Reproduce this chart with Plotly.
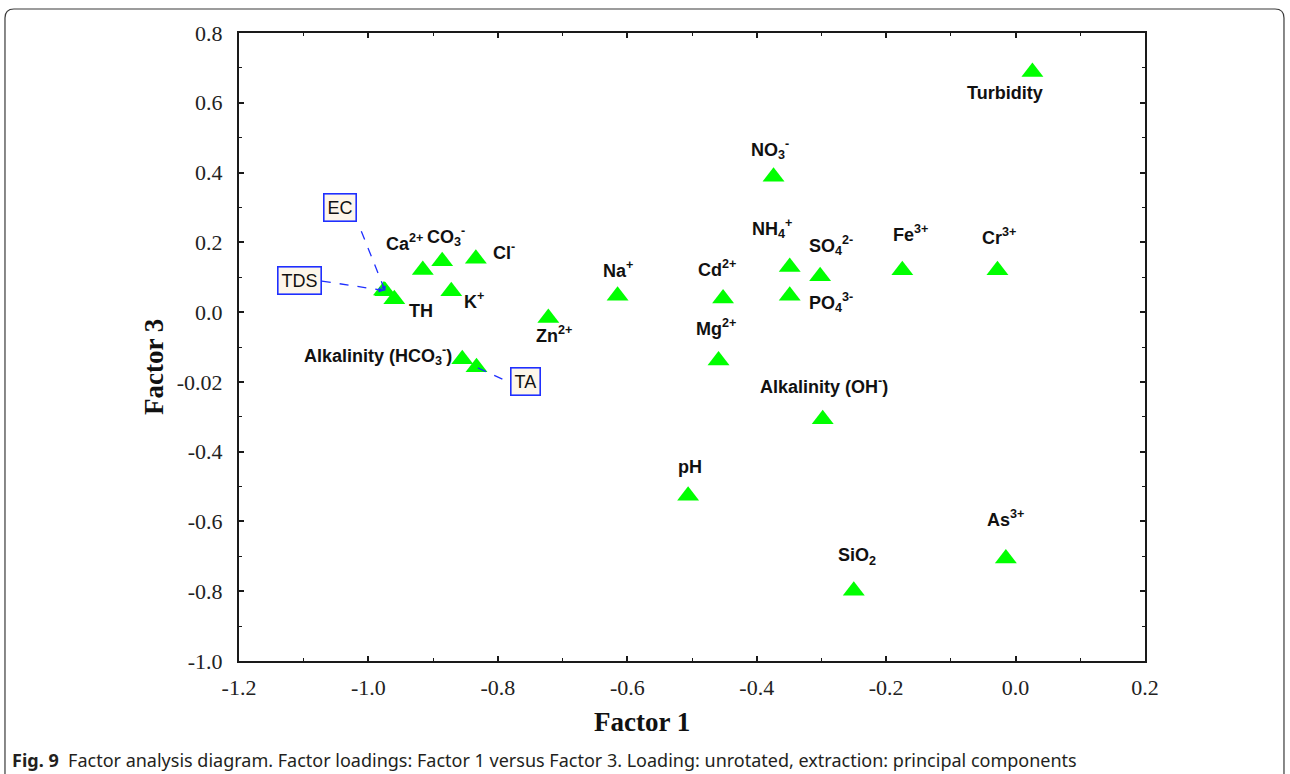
import plotly.graph_objects as go

# Factor loadings (unrotated, principal components)
variables = ["EC", "TDS", "TH", "Ca", "CO3", "Cl", "K", "Alk_HCO3", "TA", "Zn",
             "Na", "Cd", "Mg", "NO3", "NH4", "SO4", "PO4", "Fe", "Cr",
             "Turbidity", "Alk_OH", "pH", "SiO2", "As"]
factor1 = [-0.974, -0.976, -0.960, -0.916, -0.886, -0.834, -0.872, -0.855, -0.833, -0.722,
           -0.615, -0.452, -0.459, -0.374, -0.349, -0.302, -0.349, -0.175, -0.028,
           0.026, -0.298, -0.506, -0.250, -0.015]
factor3 = [0.060, 0.062, 0.037, 0.121, 0.146, 0.153, 0.060, -0.135, -0.158, -0.017,
           0.047, 0.039, -0.139, 0.388, 0.129, 0.103, 0.047, 0.120, 0.120,
           0.688, -0.307, -0.526, -0.799, -0.706]
point_labels = ["EC", "TDS", "TH", "Ca<sup>2+</sup>", "CO<sub>3</sub><sup>-</sup>",
                "Cl<sup>-</sup>", "K<sup>+</sup>",
                "Alkalinity (HCO<sub>3</sub><sup>-</sup>)", "TA", "Zn<sup>2+</sup>",
                "Na<sup>+</sup>", "Cd<sup>2+</sup>", "Mg<sup>2+</sup>",
                "NO<sub>3</sub><sup>-</sup>", "NH<sub>4</sub><sup>+</sup>",
                "SO<sub>4</sub><sup>2-</sup>", "PO<sub>4</sub><sup>3-</sup>",
                "Fe<sup>3+</sup>", "Cr<sup>3+</sup>", "Turbidity",
                "Alkalinity (OH<sup>-</sup>)", "pH", "SiO<sub>2</sub>", "As<sup>3+</sup>"]

x_tickvals = [-1.2, -1.0, -0.8, -0.6, -0.4, -0.2, 0.0, 0.2]
x_ticktext = ["-1.2", "-1.0", "-0.8", "-0.6", "-0.4", "-0.2", "0.0", "0.2"]
y_tickvals = [0.8, 0.6, 0.4, 0.2, 0.0, -0.2, -0.4, -0.6, -0.8, -1.0]
y_ticktext = ["0.8", "0.6", "0.4", "0.2", "0.0", "-0.02", "-0.4", "-0.6", "-0.8", "-1.0"]

# label placement: pixel shift (right, up) and anchor
label_style = {
    "TH": (27, -12, "center"), "Ca": (-18, 27, "center"), "CO3": (4, 25, "center"),
    "Cl": (28, 7, "center"), "K": (23, -9, "center"), "Alk_HCO3": (-8, 4, "right"),
    "Zn": (6, -16, "center"), "Na": (0, 26, "center"), "Cd": (-6, 30, "center"),
    "Mg": (-3, 33, "center"), "NO3": (-4, 27, "center"), "NH4": (-18, 39, "center"),
    "SO4": (11, 31, "center"), "PO4": (41, -7, "center"), "Fe": (8, 37, "center"),
    "Cr": (2, 34, "center"), "Turbidity": (-27, -21, "center"),
    "Alk_OH": (1, 34, "center"), "pH": (2, 29, "center"), "SiO2": (3, 34, "center"),
    "As": (0, 40, "center"),
}
# boxed labels: box centre and the start of the dashed leader line (data units)
boxed = {
    "EC": {"box": (-1.044, 0.301), "lead": (-1.011, 0.232), "head": (-3, -8)},
    "TDS": {"box": (-1.106, 0.092), "lead": (-1.072, 0.089), "head": (-8, -1)},
    "TA": {"box": (-0.758, -0.198), "lead": (-0.793, -0.192), "head": None},
}

GREEN = "#00ff00"
BLUE = "#1f2fff"
LABEL_FONT = dict(family="Liberation Sans, Arial, sans-serif", size=18, color="#111111")

fig = go.Figure()
fig.add_trace(go.Scatter(
    x=factor1, y=factor3, mode="markers",
    marker=dict(symbol="triangle-up", size=19, color=GREEN, line=dict(width=0)),
    hovertext=variables, showlegend=False,
))

annotations = []
shapes = []
idx = {n: i for i, n in enumerate(variables)}

for name, (dx, dy, anchor) in label_style.items():
    i = idx[name]
    annotations.append(dict(
        x=factor1[i], y=factor3[i], xref="x", yref="y",
        text="<b>" + point_labels[i] + "</b>", showarrow=False,
        xanchor=anchor, yanchor="middle", xshift=dx, yshift=dy,
        font=LABEL_FONT,
    ))

for name, spec in boxed.items():
    i = idx[name]
    bx, by = spec["box"]
    lx, ly = spec["lead"]
    shapes.append(dict(
        type="line", xref="x", yref="y", x0=lx, y0=ly, x1=factor1[i], y1=factor3[i],
        line=dict(color=BLUE, width=1.3, dash="dash"), layer="above",
    ))
    if spec["head"] is not None:
        hx, hy = spec["head"]
        annotations.append(dict(
            x=factor1[i], y=factor3[i], xref="x", yref="y", text="",
            showarrow=True, arrowhead=2, arrowsize=0.8, arrowwidth=1.3,
            arrowcolor=BLUE, ax=hx, ay=hy,
        ))
    annotations.append(dict(
        x=bx, y=by, xref="x", yref="y", text=point_labels[i], showarrow=False,
        xanchor="center", yanchor="middle",
        font=dict(family="Liberation Sans, Arial, sans-serif", size=18, color="#111111"),
        bgcolor="#fdf6ea", bordercolor=BLUE, borderwidth=1.6, borderpad=3,
    ))

# axis titles
annotations.append(dict(
    x=0.4448, y=-0.097, xref="paper", yref="paper", text="<b>Factor 1</b>",
    showarrow=False, xanchor="center", yanchor="middle",
    font=dict(family="Liberation Serif, Times New Roman, serif", size=27, color="#111111"),
))
annotations.append(dict(
    x=-0.094, y=0.468, xref="paper", yref="paper", text="<b>Factor 3</b>",
    showarrow=False, xanchor="center", yanchor="middle", textangle=-90,
    font=dict(family="Liberation Serif, Times New Roman, serif", size=27, color="#111111"),
))
# figure caption
annotations.append(dict(
    x=-0.2528, y=-0.1576, xref="paper", yref="paper",
    text="<b>Fig. 9</b>  Factor analysis diagram. Factor loadings: Factor 1 versus Factor 3. "
         "Loading: unrotated, extraction: principal components",
    showarrow=False, xanchor="left", yanchor="middle",
    font=dict(family="Noto Sans, Open Sans, sans-serif", size=18, color="#231f20"),
))

# rounded outer frame (open at the bottom)
rx, ry = 0.0099, 0.0143
xl, xr, yt, yb = -0.2583, 1.1534, 1.0382, -0.2
shapes.append(dict(
    type="path", xref="paper", yref="paper",
    path=(f"M {xl},{yb} L {xl},{yt - ry} Q {xl},{yt} {xl + rx},{yt} "
          f"L {xr - rx},{yt} Q {xr},{yt} {xr},{yt - ry} L {xr},{yb}"),
    line=dict(color="#3a3a3a", width=1.2), layer="below",
))

axis_common = dict(
    showgrid=False, zeroline=False, showline=True, linecolor="#1a1a1a", linewidth=2,
    mirror="ticks", ticks="inside", ticklen=5, tickwidth=1.5, tickcolor="#1a1a1a",
    tickfont=dict(family="Liberation Serif, Times New Roman, serif", size=22, color="#222222"),
    minor=dict(ticks="inside", ticklen=3, tickwidth=1.2, tickcolor="#1a1a1a", dtick=0.1),
)

fig.update_layout(
    width=1290, height=774,
    margin=dict(l=239, r=145, t=33, b=113),
    paper_bgcolor="white", plot_bgcolor="white",
    xaxis=dict(range=[-1.2, 0.2], tickmode="array", tickvals=x_tickvals, ticktext=x_ticktext,
               ticklabelstandoff=6, **axis_common),
    yaxis=dict(range=[-1.0, 0.8], tickmode="array", tickvals=y_tickvals, ticktext=y_ticktext,
               ticklabelstandoff=10, **axis_common),
    annotations=annotations, shapes=shapes, showlegend=False,
)

fig.write_html("out.html")
